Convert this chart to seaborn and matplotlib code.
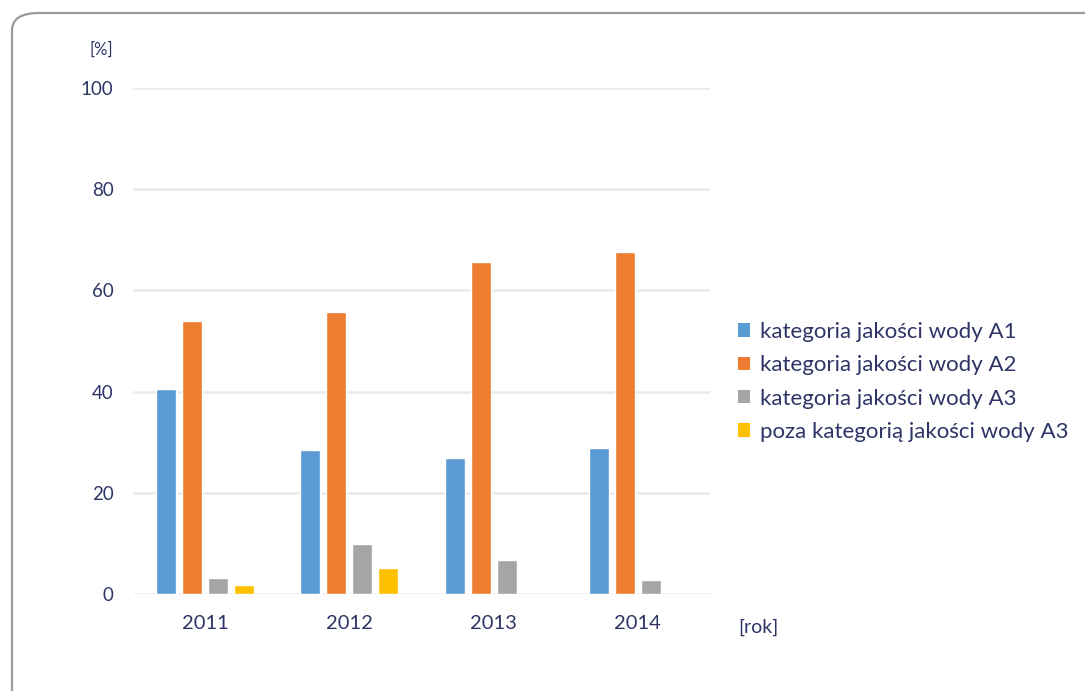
import matplotlib
matplotlib.use("Agg")
import matplotlib.pyplot as plt
import seaborn as sns
import pandas as pd
from matplotlib.patches import FancyBboxPatch, Patch

years = ["2011", "2012", "2013", "2014"]
series = ["kategoria jakości wody A1", "kategoria jakości wody A2",
          "kategoria jakości wody A3", "poza kategorią jakości wody A3"]
a1 = [40.5, 28.5, 26.9, 28.9]
a2 = [54.0, 55.7, 65.6, 67.6]
a3 = [3.2, 9.9, 6.7, 2.8]
poza = [1.8, 5.1, 0.0, 0.0]
colors = ["#5B9BD5", "#ED7D31", "#A5A5A5", "#FFC000"]
yticks = [0, 20, 40, 60, 80, 100]

rows = []
for name, vals in zip(series, [a1, a2, a3, poza]):
    for y, v in zip(years, vals):
        rows.append({"rok": y, "seria": name, "wartosc": v})
df = pd.DataFrame(rows)

sns.set_theme(style="white")
plt.rcParams["font.family"] = ["Lato", "DejaVu Sans"]
txt = "#2E3566"

fig = plt.figure(figsize=(10.85, 6.91), dpi=100)
fig.patch.set_facecolor("white")
frame = FancyBboxPatch((12 / 1085, -0.2), 1.2, 1.2 - 13 / 691,
                       boxstyle="round,pad=0,rounding_size=0.025",
                       transform=fig.transFigure, fill=False,
                       edgecolor="#9A9A9A", linewidth=1.6, zorder=0)
fig.patches.append(frame)

ax = fig.add_axes([133 / 1085, 1 - 594 / 691, (710 - 133) / 1085, (594 - 88) / 691])
sns.barplot(data=df, x="rok", y="wartosc", hue="seria", hue_order=series,
            palette=colors, width=0.72, gap=0.23, ax=ax, legend=False,
            errorbar=None, saturation=1)
ax.set_ylim(0, 100)
ax.set_yticks(yticks)
ax.set_xlim(-0.5, 3.5)
ax.grid(axis="y", color="#EAEAEA", linewidth=1.8)
ax.set_axisbelow(True)
for s in ax.spines.values():
    s.set_visible(False)
ax.set_xlabel("")
ax.set_ylabel("")
ax.tick_params(axis="both", length=0, colors=txt)
ax.tick_params(axis="y", pad=14, labelsize=13.5)
ax.tick_params(axis="x", pad=15, labelsize=14.5)

fig.text(101 / 1085, 1 - 50 / 691, "[%]", color=txt, fontsize=12, ha="center", va="center")
fig.text(758 / 1085, 1 - 627 / 691, "[rok]", color=txt, fontsize=14, ha="center", va="center")

handles = [Patch(facecolor=c, edgecolor="none") for c in colors]
leg = fig.legend(handles, series, loc="center left",
                 bbox_to_anchor=(738 / 1085, 1 - 382 / 691), frameon=False,
                 fontsize=16, handlelength=0.55, handleheight=0.55,
                 handletextpad=0.45, labelspacing=0.6, borderaxespad=0,
                 borderpad=0)
for t in leg.get_texts():
    t.set_color(txt)

fig.savefig("out.png", dpi=100, facecolor="white")
